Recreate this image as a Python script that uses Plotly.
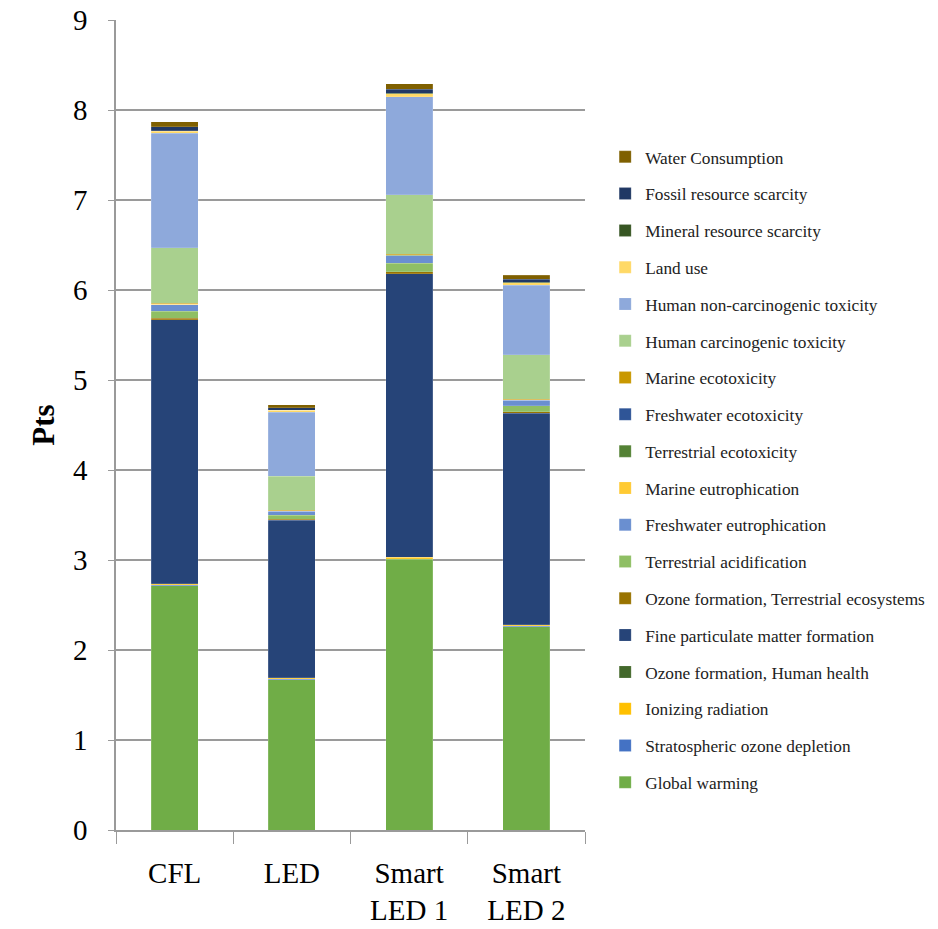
import plotly.graph_objects as go

products = ["CFL", "LED", "Smart<br>LED 1", "Smart<br>LED 2"]

# Impact categories, bottom of the stack first
categories = [
    "Global warming",
    "Stratospheric ozone depletion",
    "Ionizing radiation",
    "Ozone formation, Human health",
    "Fine particulate matter formation",
    "Ozone formation, Terrestrial ecosystems",
    "Terrestrial acidification",
    "Freshwater eutrophication",
    "Marine eutrophication",
    "Terrestrial ecotoxicity",
    "Freshwater ecotoxicity",
    "Marine ecotoxicity",
    "Human carcinogenic toxicity",
    "Human non-carcinogenic toxicity",
    "Land use",
    "Mineral resource scarcity",
    "Fossil resource scarcity",
    "Water Consumption",
]

colors = [
    "#70AD47", "#4472C4", "#FFC000", "#43682B", "#264478", "#997300",
    "#8FBF64", "#6A8FD0", "#FFCA33", "#548235", "#2F5597", "#C99800",
    "#A9D08E", "#8EA9DB", "#FFD966", "#375623", "#203864", "#7F6000",
]

# Single-score points per product (CFL, LED, Smart LED 1, Smart LED 2)
global_warming = [2.715, 1.672, 3.010, 2.260]
strat_ozone = [0.003, 0.002, 0.003, 0.002]
ionizing = [0.015, 0.014, 0.015, 0.014]
ozone_hh = [0.003, 0.002, 0.003, 0.002]
fine_pm = [2.931, 1.750, 3.149, 2.352]
ozone_te = [0.020, 0.012, 0.022, 0.018]
terr_acid = [0.078, 0.045, 0.097, 0.067]
fresh_eutro = [0.072, 0.045, 0.081, 0.059]
marine_eutro = [0.002, 0.002, 0.002, 0.002]
terr_ecotox = [0.003, 0.002, 0.003, 0.002]
fresh_ecotox = [0.003, 0.002, 0.003, 0.003]
marine_ecotox = [0.008, 0.004, 0.010, 0.007]
human_carc = [0.614, 0.378, 0.662, 0.493]
human_noncarc = [1.273, 0.710, 1.090, 0.771]
land_use = [0.025, 0.022, 0.033, 0.029]
mineral = [0.005, 0.004, 0.005, 0.004]
fossil = [0.045, 0.028, 0.045, 0.034]
water = [0.055, 0.030, 0.060, 0.045]

series = [
    global_warming, strat_ozone, ionizing, ozone_hh, fine_pm, ozone_te,
    terr_acid, fresh_eutro, marine_eutro, terr_ecotox, fresh_ecotox,
    marine_ecotox, human_carc, human_noncarc, land_use, mineral, fossil, water,
]

y_ticks = list(range(0, 10))

FONT = "Liberation Serif, Times New Roman, serif"

fig = go.Figure()
n = len(categories)
for i, (name, vals, col) in enumerate(zip(categories, series, colors)):
    fig.add_trace(go.Bar(
        x=products, y=vals, name=name, legendgroup=name,
        legendrank=100 + (n - i),  # top of the stack listed first
        marker=dict(color=col, line=dict(color="rgba(255,255,255,0.3)", width=0.5)),
    ))

fig.update_layout(
    barmode="stack",
    bargap=0.6,
    width=938, height=929,
    margin=dict(l=116, r=353, t=20, b=99, autoexpand=False),
    paper_bgcolor="white", plot_bgcolor="white",
    font=dict(family=FONT, color="#000000"),
    legend=dict(
        x=1.043, y=0.853, xanchor="left", yanchor="top",
        traceorder="grouped", tracegroupgap=11.3,
        font=dict(family=FONT, size=17.3, color="#222222"),
        itemwidth=30,
    ),
)

fig.update_yaxes(
    range=[0, 9], tickvals=y_ticks, ticktext=[str(v) for v in y_ticks],
    showgrid=True, gridcolor="#9A9A9A", gridwidth=1.5,
    showline=True, linecolor="#9A9A9A", linewidth=1.5,
    ticks="outside", ticklen=6, tickcolor="#9A9A9A",
    ticklabelstandoff=15,
    tickfont=dict(family=FONT, size=29, color="#000000"),
    title=dict(text="<b>Pts</b>", font=dict(family=FONT, size=31, color="#000000"), standoff=9),
    zeroline=False, automargin=False,
)
fig.update_xaxes(
    showline=True, linecolor="#9A9A9A", linewidth=1.5,
    ticks="outside", tickson="boundaries", ticklen=12, tickcolor="#9A9A9A",
    ticklabelstandoff=16,
    tickfont=dict(family=FONT, size=29, color="#000000"),
    automargin=False,
)

fig.write_html("out.html")
